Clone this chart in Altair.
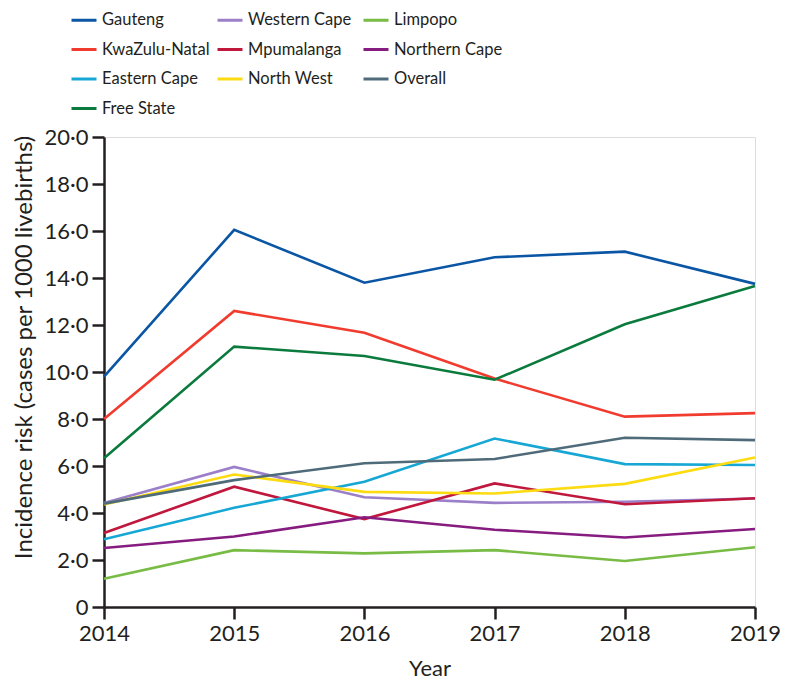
import altair as alt
import pandas as pd

years = [2014, 2015, 2016, 2017, 2018, 2019]

provinces = ["Gauteng", "Western Cape", "Limpopo",
             "KwaZulu-Natal", "Mpumalanga", "Northern Cape",
             "Eastern Cape", "North West", "Overall",
             "Free State"]

colors = ["#0a56a5", "#9b80c9", "#78bb45",
          "#f03b2e", "#c0173d", "#861b80",
          "#17a7d5", "#fcdb10", "#4f6b79",
          "#0a7a3d"]

gauteng = [9.8, 16.05, 13.8, 14.88, 15.12, 13.75]
western_cape = [4.43, 5.96, 4.67, 4.43, 4.48, 4.62]
limpopo = [1.2, 2.42, 2.28, 2.42, 1.96, 2.54]
kwazulu_natal = [8.0, 12.6, 11.67, 9.72, 8.1, 8.25]
mpumalanga = [3.15, 5.12, 3.74, 5.26, 4.37, 4.63]
northern_cape = [2.51, 3.0, 3.82, 3.29, 2.96, 3.32]
eastern_cape = [2.88, 4.22, 5.33, 7.17, 6.08, 6.04]
north_west = [4.36, 5.64, 4.9, 4.83, 5.24, 6.36]
overall = [4.4, 5.4, 6.12, 6.3, 7.2, 7.1]
free_state = [6.33, 11.08, 10.68, 9.67, 12.03, 13.66]

series = [gauteng, western_cape, limpopo, kwazulu_natal, mpumalanga,
          northern_cape, eastern_cape, north_west, overall, free_state]

rows = []
for order, (name, vals) in enumerate(zip(provinces, series)):
    for y, v in zip(years, vals):
        rows.append({"Province": name, "Year": y, "Risk": v, "order": order})
df = pd.DataFrame(rows)

ink = "#231f20"

chart = alt.Chart(df).mark_line(strokeWidth=2.6).encode(
    x=alt.X("Year:Q",
            scale=alt.Scale(domain=[2014, 2019], nice=False, zero=False),
            axis=alt.Axis(values=years, format="d", title="Year",
                          grid=False, tickSize=12, tickWidth=2.5,
                          domainWidth=2.5, domainColor=ink, tickColor=ink,
                          labelFont="Lato", labelFontSize=22, labelColor=ink,
                          labelPadding=4, labelFlush=False,
                          titleFont="Lato", titleFontSize=22,
                          titleFontWeight="normal", titleColor=ink,
                          titlePadding=14)),
    y=alt.Y("Risk:Q",
            scale=alt.Scale(domain=[0, 20], nice=False),
            axis=alt.Axis(values=list(range(0, 21, 2)),
                          labelExpr="datum.value == 0 ? '0' : replace(format(datum.value, '.1f'), '.', '·')",
                          title="Incidence risk (cases per 1000 livebirths)",
                          grid=False, tickSize=12, tickWidth=2.5,
                          domainWidth=2.5, domainColor=ink, tickColor=ink,
                          labelFont="Lato", labelFontSize=22, labelColor=ink,
                          labelPadding=4,
                          titleFont="Lato", titleFontSize=24,
                          titleFontWeight="normal", titleColor=ink,
                          titleX=-80, titleY=210, titleAlign="center",
                          titleBaseline="middle")),
    color=alt.Color("Province:N",
                    scale=alt.Scale(domain=provinces, range=colors),
                    legend=alt.Legend(title=None, orient="none",
                                      direction="horizontal",
                                      legendX=-34, legendY=-131,
                                      columns=3, columnPadding=0,
                                      gridAlign="all",
                                      rowPadding=6.5,
                                      symbolType="stroke", symbolSize=625,
                                      symbolStrokeWidth=3,
                                      labelFont="Lato",
                                      labelFontSize=16.5, labelColor=ink,
                                      labelOffset=4)),
    order=alt.Order("order:Q"),
    detail="Province:N",
).properties(
    width=651,
    height=470,
    autosize=alt.AutoSizeParams(type="none"),
    padding={"left": 96, "top": 129, "right": 25, "bottom": 73},
).configure_view(stroke="transparent", strokeWidth=0).configure(background="white")

chart.save("out.html", embed_options={"renderer": "svg", "actions": False})
